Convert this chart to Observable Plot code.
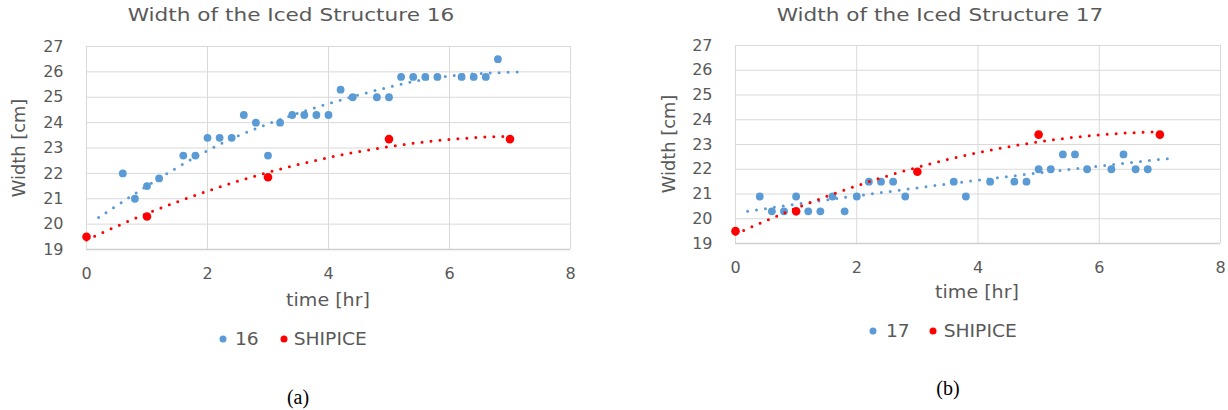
<!DOCTYPE html>
<html>
<head>
<meta charset="utf-8">
<script src="https://cdn.jsdelivr.net/npm/d3@7"></script>
<script src="https://cdn.jsdelivr.net/npm/@observablehq/plot@0.6"></script>
<style>
  html, body { margin: 0; padding: 0; background: #fff; }
  #root { position: relative; width: 1228px; height: 410px; overflow: hidden; font-family: "DejaVu Sans", sans-serif; color: #595959; }
  .abs { position: absolute; white-space: nowrap; line-height: 1; }
  .title { font-size: 18px; }
  .axt { font-size: 17px; }
  .leg { font-size: 17px; }
  .dot { position: absolute; width: 7px; height: 7px; border-radius: 50%; transform: translate(-50%, -50%); }
  .cap { font-family: "Liberation Serif", serif; font-size: 20px; color: #000; }
  .panel { position: absolute; top: 0; }
</style>
</head>
<body>
<div id="root"></div>
<script>
// ---- data ----
const xTicks = [0, 2, 4, 6, 8];
const yTicks = [19, 20, 21, 22, 23, 24, 25, 26, 27];

// Panel (a): structure 16
const time16 = [0.6,0.8,1.0,1.2,1.6,1.8,2.0,2.2,2.4,2.6,2.8,3.0,3.2,3.4,3.6,3.8,4.0,4.2,4.4,4.8,5.0,5.2,5.4,5.6,5.8,6.2,6.4,6.6,6.8];
const width16 = [22.0,21.0,21.5,21.8,22.7,22.7,23.4,23.4,23.4,24.3,24.0,22.7,24.0,24.3,24.3,24.3,24.3,25.3,25.0,25.0,25.0,25.8,25.8,25.8,25.8,25.8,25.8,25.8,26.5];
// trendline of series 16
const trendTime16 = [0.2, 1, 2, 3, 4, 5, 6, 7.2];
const trendWidth16 = [20.26, 21.5, 22.9, 23.95, 24.75, 25.4, 25.84, 26.0];
const shipTimeA = [0, 1, 3, 5, 7];
const shipWidthA = [19.5, 20.3, 21.85, 23.35, 23.35];

// Panel (b): structure 17
const time17 = [0.4,0.6,0.8,1.0,1.2,1.4,1.6,1.8,2.0,2.2,2.4,2.6,2.8,3.6,3.8,4.2,4.6,4.8,5.0,5.2,5.4,5.6,5.8,6.2,6.4,6.6,6.8];
const width17 = [20.9,20.3,20.3,20.9,20.3,20.3,20.9,20.3,20.9,21.5,21.5,21.5,20.9,21.5,20.9,21.5,21.5,21.5,22.0,22.0,22.6,22.6,22.0,22.0,22.6,22.0,22.0];
const shipTimeB = [0, 1, 3, 5, 7];
const shipWidthB = [19.5, 20.3, 21.9, 23.4, 23.4];

// trendline extents (time range incl. forecast)
const trendRange17 = [0.2, 7.2];
const trendRangeShip = [0, 7];

const blue = "#5b9bd5";
const red = "#ff0000";

// ---- polynomial (order 2) least-squares trendline, like Excel's ----
function quadFit(xs, ys) {
  const S = Array(5).fill(0), T = Array(3).fill(0);
  xs.forEach((x, i) => {
    for (let k = 0; k < 5; k++) S[k] += x ** k;
    for (let k = 0; k < 3; k++) T[k] += ys[i] * x ** k;
  });
  const A = [[S[0], S[1], S[2], T[0]], [S[1], S[2], S[3], T[1]], [S[2], S[3], S[4], T[2]]];
  for (let i = 0; i < 3; i++) {
    for (let j = i + 1; j < 3; j++) {
      const f = A[j][i] / A[i][i];
      for (let k = i; k < 4; k++) A[j][k] -= f * A[i][k];
    }
  }
  const c = [0, 0, 0];
  for (let i = 2; i >= 0; i--) {
    let s = A[i][3];
    for (let k = i + 1; k < 3; k++) s -= A[i][k] * c[k];
    c[i] = s / A[i][i];
  }
  return x => c[0] + c[1] * x + c[2] * x * x;
}
function trend(xs, ys, range) {
  const f = quadFit(xs, ys);
  return d3.range(range[0], range[1] + 1e-9, 0.05).map(x => ({x, y: f(x)}));
}
const pts = (xs, ys) => xs.map((x, i) => ({x, y: ys[i]}));

const dotted = {strokeWidth: 3, strokeDasharray: "0 9", strokeLinecap: "round"};

function panel(o) {
  const data = pts(o.t, o.w), ship = pts(o.st, o.sw);
  return Plot.plot({
    width: o.width, height: 320,
    marginLeft: o.ml, marginRight: o.mr, marginTop: o.mt, marginBottom: 320 - o.bottom,
    style: {fontFamily: "DejaVu Sans, sans-serif", fontSize: "16px", color: "#595959", background: "transparent", overflow: "visible"},
    x: {domain: [0, 8], label: null},
    y: {domain: [19, 27], label: null},
    marks: [
      Plot.gridX(xTicks, {stroke: "#d9d9d9", strokeOpacity: 1, strokeWidth: 1}),
      Plot.gridY(yTicks, {stroke: "#d9d9d9", strokeOpacity: 1, strokeWidth: 1}),
      Plot.ruleY([19], {stroke: "#cfcfcf", strokeWidth: 1.3}),
      Plot.axisX(xTicks, {tickSize: 0, tickPadding: 18, fill: "#595959"}),
      Plot.axisY(yTicks, {tickSize: 0, tickPadding: 23, fill: "#595959"}),
      Plot.dot(data, {x: "x", y: "y", r: 3.9, fill: blue, stroke: null}),
      Plot.dot(ship, {x: "x", y: "y", r: 4.3, fill: red, stroke: null}),
      Plot.line(o.trendData, {x: "x", y: "y", stroke: blue, curve: o.trendCurve, ...dotted}),
      Plot.line(trend(o.st, o.sw, trendRangeShip), {x: "x", y: "y", stroke: red, ...dotted})
    ]
  });
}

const root = document.getElementById("root");
function addText(cls, text, x, y, transform) {
  const d = document.createElement("div");
  d.className = "abs " + cls;
  d.textContent = text;
  d.style.left = x + "px"; d.style.top = y + "px";
  d.style.transform = transform;
  root.appendChild(d);
  return d;
}
function addDot(color, x, y) {
  const d = document.createElement("div");
  d.className = "dot";
  d.style.background = color; d.style.left = x + "px"; d.style.top = y + "px";
  root.appendChild(d);
}
const center = s => `translate(-50%, -50%) scaleX(${s})`;
const leftAnch = s => `translate(0, -50%) scaleX(${s})`;

// Panel (a)
const pa = document.createElement("div");
pa.className = "panel"; pa.style.left = "0px";
pa.appendChild(panel({width: 600, ml: 86, mr: 30, mt: 46, bottom: 249, t: time16, w: width16, st: shipTimeA, sw: shipWidthA,
  trendData: pts(trendTime16, trendWidth16), trendCurve: "natural"}));
root.appendChild(pa);

// Panel (b)
const pb = document.createElement("div");
pb.className = "panel"; pb.style.left = "620px";
pb.appendChild(panel({width: 608, ml: 115, mr: 8, mt: 45, bottom: 243, t: time17, w: width17, st: shipTimeB, sw: shipWidthB,
  trendData: trend(time17, width17, trendRange17), trendCurve: "linear"}));
root.appendChild(pb);

// Texts for (a)
addText("title", "Width of the Iced Structure 16", 291, 15, center(1.2));
addText("axt", "time [hr]", 328, 300, center(1.12));
addText("axt", "Width [cm]", 19, 148, "translate(-50%, -50%) rotate(-90deg) scaleX(1.05)");
addDot(blue, 223, 339); addText("leg", "16", 236, 339, leftAnch(1.1));
addDot(red, 284, 339); addText("leg", "SHIPICE", 297, 339, "translate(0, -50%) scaleX(1.1)");
addText("cap", "(a)", 298, 397, center(1));

// Texts for (b)
addText("title", "Width of the Iced Structure 17", 940, 15, center(1.2));
addText("axt", "time [hr]", 977, 292, center(1.12));
addText("axt", "Width [cm]", 669, 144, "translate(-50%, -50%) rotate(-90deg) scaleX(1.05)");
addDot(blue, 873, 331); addText("leg", "17", 887, 331, leftAnch(1.1));
addDot(red, 933, 331); addText("leg", "SHIPICE", 947, 331, leftAnch(1.1));
addText("cap", "(b)", 948, 388, center(1));
</script>
</body>
</html>
